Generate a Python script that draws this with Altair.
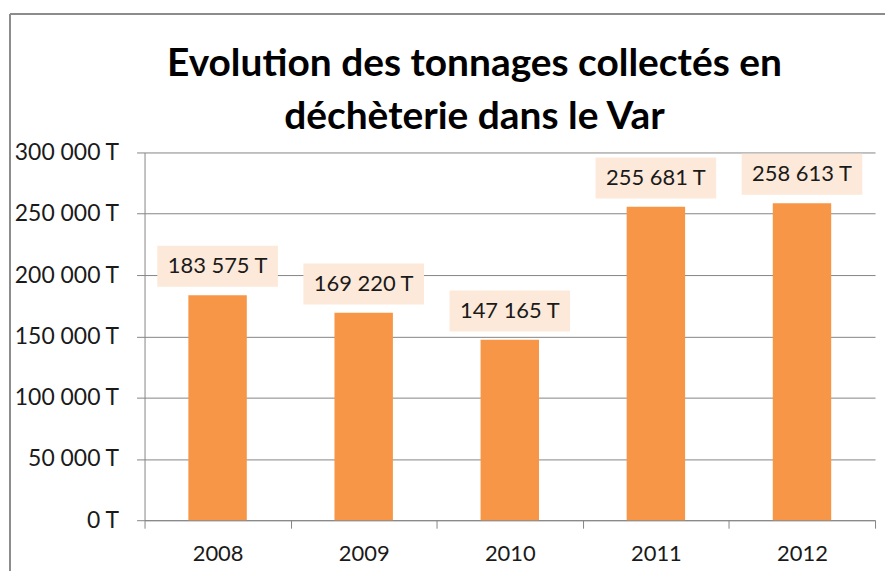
import altair as alt
import pandas as pd

years = ["2008", "2009", "2010", "2011", "2012"]
tonnages = [183575, 169220, 147165, 255681, 258613]
labels = [f"{v:,}".replace(",", " ") + " T" for v in tonnages]
title_lines = ["Evolution des tonnages collectés en", "déchèterie dans le Var"]

df = pd.DataFrame({"annee": years, "t": tonnages, "lab": labels})

FONT = "Lato"
x = alt.X("annee:N", title=None, sort=years,
          scale=alt.Scale(paddingInner=0, paddingOuter=0),
          axis=alt.Axis(labelAngle=0, labelFontSize=22, labelFont=FONT, labelColor="#1a1a1a",
                        labelPadding=15, tickBand="extent", tickSize=8, tickColor="#868686",
                        domainColor="#868686", grid=False))
y = alt.Y("t:Q", title=None,
          scale=alt.Scale(domain=[0, 300000], nice=False),
          axis=alt.Axis(values=[0, 50000, 100000, 150000, 200000, 250000, 300000],
                        labelExpr="replace(format(datum.value, ',d'), ',', ' ') + ' T'",
                        labelFontSize=23, labelFont=FONT, labelColor="#1a1a1a",
                        labelPadding=18, tickSize=8, tickColor="#868686",
                        domainColor="#868686", gridColor="#868686", gridOpacity=1))

base = alt.Chart(df)
bars = base.mark_bar(color="#F79646", width=alt.RelativeBandSize(0.4)).encode(x=x, y=y)
boxes = base.mark_point(shape="M-1,-0.34H1V0.34H-1Z", size=14641, filled=True,
                        color="#FDE9D9", opacity=1, strokeWidth=0, yOffset=-29).encode(x=x, y=y)
texts = base.mark_text(fontSize=22, font=FONT, color="#1a1a1a", dy=-29,
                       baseline="middle").encode(x=x, y=y, text="lab:N")

title1 = alt.Chart().mark_text(text=title_lines[0], font=FONT, fontSize=39, fontWeight="bold",
                               color="#000000", baseline="alphabetic", align="center").encode(
    x=alt.value(331), y=alt.value(-77))
title2 = alt.Chart().mark_text(text=title_lines[1], font=FONT, fontSize=39, fontWeight="bold",
                               color="#000000", baseline="alphabetic", align="center").encode(
    x=alt.value(331), y=alt.value(-24))

border_left = alt.Chart().mark_rule(color="#8c8c8c", strokeWidth=2).encode(
    x=alt.value(-135), y=alt.value(-139), y2=alt.value(420))
border_top = alt.Chart().mark_rule(color="#8c8c8c", strokeWidth=2).encode(
    x=alt.value(-135), x2=alt.value(760), y=alt.value(-139))

chart = alt.layer(bars, boxes, texts, title1, title2, border_left, border_top).properties(
    width=733, height=369,
    autosize=alt.AutoSizeParams(type="none"),
    padding={"left": 137, "top": 144, "right": 10, "bottom": 50},
).configure_view(stroke=None)

chart.save("out.html", embed_options={"renderer": "svg", "actions": False})
